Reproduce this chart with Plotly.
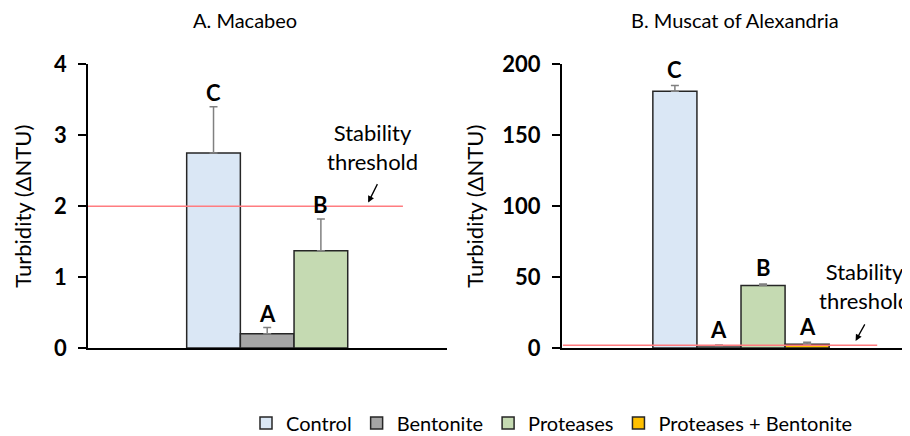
import plotly.graph_objects as go

# ---- data ----
series = ["Control", "Bentonite", "Proteases", "Proteases + Bentonite"]
colors = ["#DAE7F5", "#A5A5A5", "#C5DAB2", "#FFC000"]

macabeo_vals = [2.75, 0.20, 1.37]
macabeo_err = [0.65, 0.09, 0.45]
macabeo_letters = ["C", "A", "B"]

muscat_vals = [181.0, 1.5, 44.0, 2.6]
muscat_err = [4.0, 0.6, 1.2, 1.4]
muscat_letters = ["C", "A", "B", "A"]

threshold = 2
titles = ["A. Macabeo", "B. Muscat of Alexandria"]
ytitle = "Turbidity (ΔNTU)"
threshold_text = "Stability<br>threshold"

FONT = "Lato"
# page body has an 8px default margin; size figure so it fits the 910x436 window
OFF = 8
W, H = 910 - OFF, 436 - OFF


def px(x):
    return (x - OFF) / W


def py(y):
    return 1 - (y - OFF) / H


fig = go.Figure()


def add_panel(vals, errs, xa, ya, show):
    for i, (v, e) in enumerate(zip(vals, errs)):
        fig.add_trace(go.Bar(
            x=[i], y=[v], width=1, name=series[i], legendgroup=series[i],
            showlegend=show, xaxis=xa, yaxis=ya,
            marker=dict(color=colors[i], line=dict(color="#262626", width=1.5)),
            error_y=dict(type="data", array=[e], arrayminus=[0], symmetric=False,
                         color="#808080", thickness=1.5, width=4),
        ))


add_panel(macabeo_vals, macabeo_err, "x", "y", False)
add_panel(muscat_vals, muscat_err, "x2", "y2", True)

axis_common = dict(showline=True, linecolor="#000000", linewidth=1.5, zeroline=False,
                   showgrid=False, automargin=False)
ydom = [py(348), py(64.3)]


def yaxis_common(standoff):
    return dict(ticks="outside", ticklen=8, tickwidth=1.5, tickcolor="#000",
                ticklabelstandoff=7,
                tickfont=dict(size=22, family=FONT, weight="bold"),
                title=dict(text=ytitle, font=dict(size=22, family=FONT), standoff=standoff))


fig.update_layout(
    width=W, height=H, margin=dict(l=0, r=0, t=0, b=0, autoexpand=False),
    plot_bgcolor="white", paper_bgcolor="white", barmode="overlay",
    font=dict(family=FONT, color="#000000"),
    xaxis=dict(domain=[px(88), px(447)], range=[-2.338, 4.349], showticklabels=False,
               ticks="", **axis_common),
    xaxis2=dict(domain=[px(561.7), 1.0], range=[-2.568, 5.334], showticklabels=False,
                ticks="", **axis_common),
    yaxis=dict(domain=ydom, range=[0, 4], dtick=1, anchor="x", **yaxis_common(16),
               **axis_common),
    yaxis2=dict(domain=ydom, range=[0, 200], dtick=50, anchor="x2", **yaxis_common(13),
                **axis_common),
    legend=dict(orientation="h", x=px(552), xanchor="center", y=py(423), yanchor="middle",
                font=dict(size=20, family=FONT), traceorder="normal"),
)

# threshold lines
fig.add_shape(type="line", xref="x", yref="y", x0=-2.338, x1=3.528, y0=threshold, y1=threshold,
              line=dict(color="#FF7C80", width=1.5), layer="above")
fig.add_shape(type="line", xref="x2", yref="y2", x0=-2.54, x1=4.59, y0=threshold, y1=threshold,
              line=dict(color="#FF7C80", width=1.5), layer="above")

# significance letters
for i, (v, e, t) in enumerate(zip(macabeo_vals, macabeo_err, macabeo_letters)):
    fig.add_annotation(x=i, y=v + e, xref="x", yref="y", text=t, showarrow=False,
                       xanchor="center", yanchor="middle", yshift=14,
                       font=dict(size=22, family=FONT, weight="bold"))
for i, (v, e, t) in enumerate(zip(muscat_vals, muscat_err, muscat_letters)):
    fig.add_annotation(x=i, y=v + e, xref="x2", yref="y2", text=t, showarrow=False,
                       xanchor="center", yanchor="middle", yshift=16,
                       font=dict(size=22, family=FONT, weight="bold"))

# stability threshold labels + arrows
fig.add_annotation(xref="paper", yref="paper", x=px(372), y=py(147), text=threshold_text,
                   showarrow=False, xanchor="center", yanchor="middle",
                   font=dict(size=22, family=FONT), align="center")
fig.add_annotation(xref="x", yref="y", x=2.88, y=threshold + 0.05, text="", showarrow=True,
                   ax=10, ay=-20, arrowhead=2, arrowsize=1, arrowwidth=1.3, arrowcolor="#000")
fig.add_annotation(xref="paper", yref="paper", x=px(864), y=py(286), text=threshold_text,
                   showarrow=False, xanchor="center", yanchor="middle",
                   font=dict(size=22, family=FONT), align="center")
fig.add_annotation(xref="x2", yref="y2", x=4.1, y=threshold + 3, text="", showarrow=True,
                   ax=10, ay=-18, arrowhead=2, arrowsize=1, arrowwidth=1.3, arrowcolor="#000")

# panel titles
fig.add_annotation(xref="paper", yref="paper", x=px(245), y=py(20), text=titles[0],
                   showarrow=False, xanchor="center", yanchor="middle",
                   font=dict(size=20, family=FONT))
fig.add_annotation(xref="paper", yref="paper", x=px(735), y=py(20), text=titles[1],
                   showarrow=False, xanchor="center", yanchor="middle",
                   font=dict(size=20, family=FONT))

fig.write_html("out.html")
